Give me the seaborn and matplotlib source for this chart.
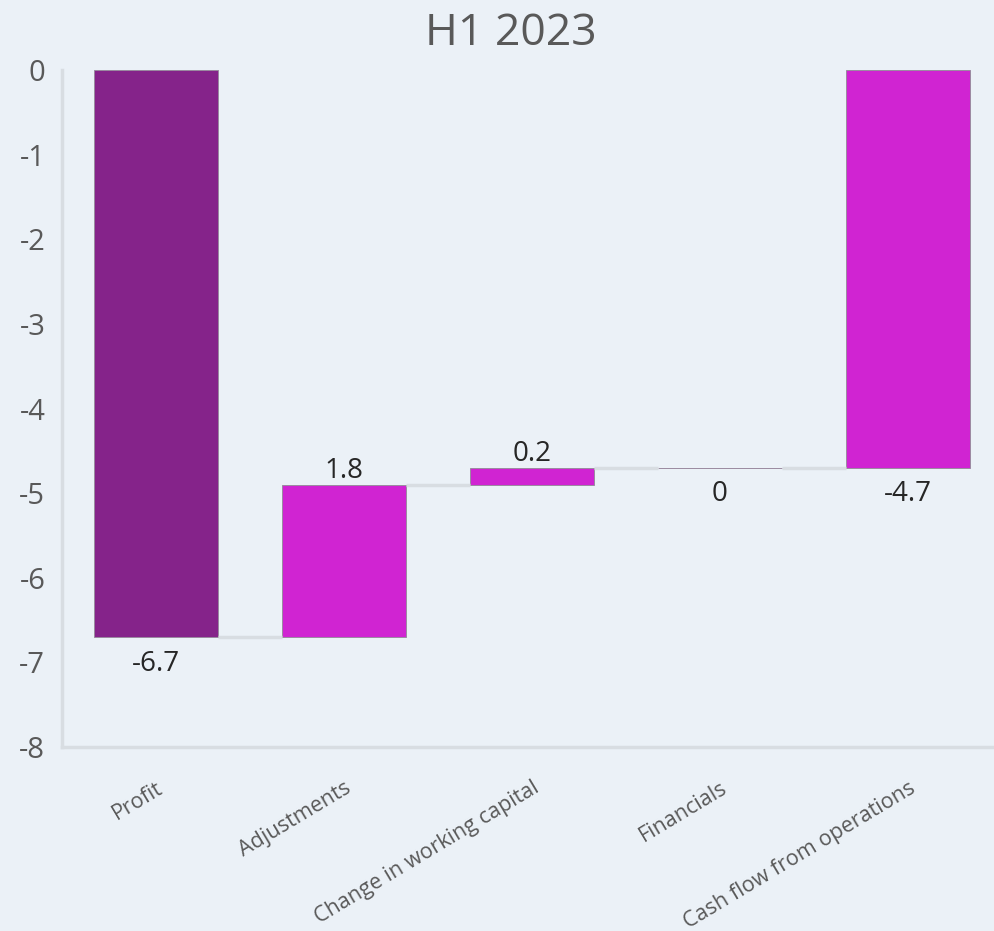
import pandas as pd
import seaborn as sns
import matplotlib.pyplot as plt

# Chart data
categories = ["Profit", "Adjustments", "Change in working capital", "Financials", "Cash flow from operations"]
values = [-6.7, 1.8, 0.2, 0.0, -4.7]
is_total = [False, False, False, False, True]
value_labels = ["-6.7", "1.8", "0.2", "0", "-4.7"]
yticks = [0, -1, -2, -3, -4, -5, -6, -7, -8]
title = "H1 2023"

# Waterfall: where each bar starts
bottoms = []
running = 0.0
for v, tot in zip(values, is_total):
    if tot:
        bottoms.append(0.0)
    else:
        bottoms.append(running)
        running += v

df = pd.DataFrame({"category": categories, "value": values, "bottom": bottoms})

bg = "#EBF1F7"
grey_text = "#595959"
line_grey = "#d8dde2"
colors = ["#85238A", "#D024D2", "#D024D2", "#85238A", "#D024D2"]

sns.set_theme(style="white")
plt.rcParams["font.family"] = ["Open Sans", "DejaVu Sans"]

fig = plt.figure(figsize=(9.94, 9.31), dpi=100, facecolor=bg)
ax = fig.add_axes([0.0624, 0.1976, 0.9457, 0.7272])
ax.set_facecolor(bg)

bar_w = 0.66
sns.barplot(
    data=df, x="category", y="value", hue="category", palette=colors,
    saturation=1, legend=False, width=bar_w, edgecolor="#9a8aa0",
    linewidth=0.7, ax=ax,
)

# move bars to their floating positions
for patch, b in zip(ax.patches, bottoms):
    patch.set_y(b)

# connector lines between bars
for i in range(len(categories) - 1):
    level = bottoms[i] + values[i]
    ax.plot([i + bar_w / 2, i + 1 - bar_w / 2], [level, level],
            color=line_grey, lw=2.5, solid_capstyle="butt", zorder=1)

# value labels
for i, (v, b, lab) in enumerate(zip(values, bottoms, value_labels)):
    top = max(b, b + v)
    low = min(b, b + v)
    if v > 0:
        ax.annotate(lab, (i, top), xytext=(0, 0), textcoords="offset points",
                    ha="center", va="bottom", fontsize=20, color="#262626")
    else:
        ax.annotate(lab, (i, low), xytext=(0, -9), textcoords="offset points",
                    ha="center", va="top", fontsize=20, color="#262626")

ax.set_xlim(-0.5, 4.5)
ax.set_ylim(-8, 0)
ax.set_yticks(yticks)
ax.set_yticklabels([str(t) for t in yticks], fontsize=21, color=grey_text)
ax.set_xticks(range(len(categories)))
ax.set_xticklabels(categories, rotation=31, ha="right", rotation_mode="anchor",
                   fontsize=15.5, color=grey_text)
ax.tick_params(axis="y", length=0, pad=12)
ax.tick_params(axis="x", length=0, pad=22)
ax.set_xlabel("")
ax.set_ylabel("")

for s in ["top", "right"]:
    ax.spines[s].set_visible(False)
for s in ["left", "bottom"]:
    ax.spines[s].set_color(line_grey)
    ax.spines[s].set_linewidth(2.5)

fig.text(0.514, 0.964, title, ha="center", va="center", fontsize=32, color=grey_text)

fig.savefig("out.png", dpi=100, facecolor=bg)
